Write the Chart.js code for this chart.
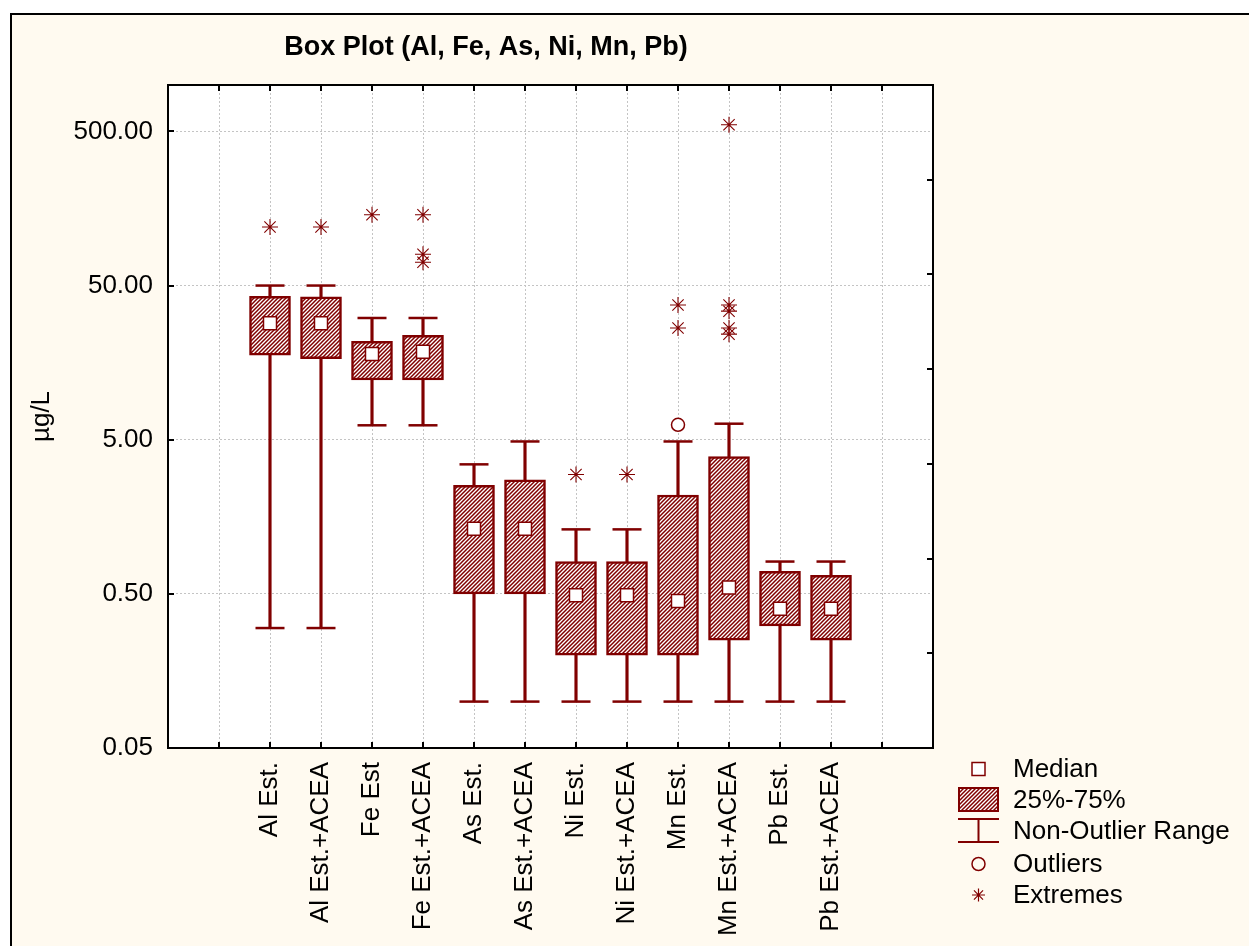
<!DOCTYPE html>
<html>
<head>
<meta charset="utf-8">
<title>Box Plot (Al, Fe, As, Ni, Mn, Pb)</title>
<script src="https://cdn.jsdelivr.net/npm/chart.js@4.4.1/dist/chart.umd.min.js"></script>
<style>
  html, body { margin: 0; padding: 0; background: #ffffff; }
  canvas { display: block; }
</style>
</head>
<body>
<canvas id="boxChart" width="1249" height="946"></canvas>
<script>
// ============ Data ============

const CATEGORIES = [
    'Al Est.', 'Al Est.+ACEA', 'Fe Est', 'Fe Est.+ACEA',
    'As Est.', 'As Est.+ACEA', 'Ni Est.', 'Ni Est.+ACEA',
    'Mn Est.', 'Mn Est.+ACEA', 'Pb Est.', 'Pb Est.+ACEA'
];
const WHISKER_LOW  = [0.30, 0.30, 6.2, 6.2, 0.10, 0.10, 0.10, 0.10, 0.10, 0.10, 0.10, 0.10];
const Q1           = [17.7, 16.8, 12.2, 12.2, 0.50, 0.50, 0.20, 0.20, 0.20, 0.25, 0.31, 0.25];
const MEDIAN       = [28.5, 28.5, 18.0, 18.6, 1.32, 1.32, 0.49, 0.49, 0.45, 0.55, 0.40, 0.40];
const Q3           = [42.5, 42.2, 21.7, 23.8, 2.53, 2.75, 0.81, 0.81, 2.19, 3.88, 0.70, 0.66];
const WHISKER_HIGH = [50, 50, 30.8, 30.8, 3.46, 4.87, 1.31, 1.31, 4.87, 6.35, 0.81, 0.81];
const OUTLIERS = [[], [], [], [], [], [], [], [], [6.25], [], [], []];
const EXTREMES = [
    [120], [120], [144], [144, 79.8, 70.8],
    [], [], [2.97], [2.97],
    [37.4, 26.5], [552, 37.4, 34.1, 26.5, 24.2], [], []
];
const Y_TICKS = [0.05, 0.5, 5, 50, 500];
const LEGEND_ITEMS = ['Median', '25%-75%', 'Non-Outlier Range', 'Outliers', 'Extremes'];

// ============ Style ============

const DARK = '#800000';
const CREAM = '#fffaf0';
const GRID = '#c4c4c4';
const FONT = '"Liberation Sans", Arial, sans-serif';

// two empty slots on each side of the categories
const pad = arr => [null, null, ...arr, null, null];
const LABELS = ['', '', ...CATEGORIES, '', ''];

function makeHatch() {
    const c = document.createElement('canvas');
    c.width = 4;
    c.height = 4;
    const g = c.getContext('2d');
    g.fillStyle = '#ffffff';
    g.fillRect(0, 0, 4, 4);
    g.strokeStyle = DARK;
    g.lineWidth = 1.5;
    g.beginPath();
    g.moveTo(0, 4); g.lineTo(4, 0);
    g.moveTo(-1, 1); g.lineTo(1, -1);
    g.moveTo(3, 5); g.lineTo(5, 3);
    g.stroke();
    return g.createPattern(c, 'repeat');
}
const HATCH = makeHatch();

const toPoints = lists => lists.flatMap((vals, i) => vals.map(v => ({ x: CATEGORIES[i], y: v })));

// ============ Plugins ============

function drawAsterisk(ctx, x, y, r) {
    ctx.beginPath();
    ctx.moveTo(x - r, y); ctx.lineTo(x + r, y);
    ctx.moveTo(x, y - r); ctx.lineTo(x, y + r);
    const d = r * 0.7;
    ctx.moveTo(x - d, y - d); ctx.lineTo(x + d, y + d);
    ctx.moveTo(x - d, y + d); ctx.lineTo(x + d, y - d);
    ctx.stroke();
}

const framePlugin = {
    id: 'frame',
    beforeDraw(chart) {
        const { ctx, chartArea: a } = chart;
        ctx.save();
        ctx.fillStyle = '#ffffff';
        ctx.fillRect(0, 0, chart.width, chart.height);
        ctx.fillStyle = CREAM;
        ctx.fillRect(10, 13, chart.width - 10, chart.height - 13);
        ctx.strokeStyle = '#000000';
        ctx.lineWidth = 2;
        ctx.beginPath();
        ctx.moveTo(11, chart.height);
        ctx.lineTo(11, 14);
        ctx.lineTo(chart.width, 14);
        ctx.stroke();
        ctx.fillStyle = '#ffffff';
        ctx.fillRect(a.left, a.top, a.right - a.left, a.bottom - a.top);
        ctx.restore();
    },
    afterDraw(chart) {
        const { ctx, chartArea: a, scales } = chart;
        ctx.save();

        // plot border + inward ticks
        ctx.strokeStyle = '#000000';
        ctx.lineWidth = 2;
        ctx.strokeRect(a.left, a.top, a.right - a.left, a.bottom - a.top);
        ctx.beginPath();
        for (let i = 1; i < LABELS.length - 1; i++) {
            const x = Math.round(scales.x.getPixelForValue(i));
            ctx.moveTo(x, a.top); ctx.lineTo(x, a.top + 6);
            ctx.moveTo(x, a.bottom); ctx.lineTo(x, a.bottom - 6);
        }
        Y_TICKS.slice(1).forEach(v => {
            const y = Math.round(scales.y.getPixelForValue(v));
            ctx.moveTo(a.left, y); ctx.lineTo(a.left + 6, y);
        });
        for (let v = 1; v < 7; v++) {
            const y = Math.round(scales.y2.getPixelForValue(v));
            ctx.moveTo(a.right, y); ctx.lineTo(a.right - 6, y);
        }
        ctx.stroke();

        // title
        ctx.fillStyle = '#000000';
        ctx.font = 'bold 27px ' + FONT;
        ctx.textAlign = 'center';
        ctx.textBaseline = 'middle';
        ctx.fillText('Box Plot (Al, Fe, As, Ni, Mn, Pb)', 486, 48);

        // y axis title
        ctx.save();
        ctx.translate(42, (a.top + a.bottom) / 2);
        ctx.rotate(-Math.PI / 2);
        ctx.font = '26px ' + FONT;
        ctx.fillText('µg/L', 0, 0);
        ctx.restore();

        // legend
        const sx = 978.5;
        const rows = [769, 800, 831, 864, 895];
        ctx.strokeStyle = DARK;

        ctx.lineWidth = 1.5;
        ctx.fillStyle = '#ffffff';
        ctx.fillRect(sx - 6.5, rows[0] - 6.5, 13, 13);
        ctx.strokeRect(sx - 6.5, rows[0] - 6.5, 13, 13);

        ctx.fillStyle = HATCH;
        ctx.fillRect(958, rows[1] - 13, 41, 25);
        ctx.lineWidth = 2;
        ctx.strokeRect(959, rows[1] - 12, 39, 23);

        ctx.beginPath();
        ctx.moveTo(958, rows[2] - 12); ctx.lineTo(999, rows[2] - 12);
        ctx.moveTo(sx, rows[2] - 12); ctx.lineTo(sx, rows[2] + 11);
        ctx.moveTo(958, rows[2] + 11); ctx.lineTo(999, rows[2] + 11);
        ctx.stroke();

        ctx.lineWidth = 1.5;
        ctx.beginPath();
        ctx.arc(sx, rows[3], 6.5, 0, Math.PI * 2);
        ctx.stroke();

        ctx.lineWidth = 1.2;
        drawAsterisk(ctx, sx, rows[4], 6.5);

        ctx.fillStyle = '#000000';
        ctx.font = '26px ' + FONT;
        ctx.textAlign = 'left';
        LEGEND_ITEMS.forEach((t, i) => ctx.fillText(t, 1013, rows[i] + 1));

        ctx.restore();
    }
};

// ============ Chart ============

const ctx = document.getElementById('boxChart').getContext('2d');

new Chart(ctx, {
    data: {
        labels: LABELS,
        datasets: [
            {
                type: 'bar',
                label: 'Non-Outlier Range',
                data: pad(CATEGORIES.map((c, i) => [WHISKER_LOW[i], WHISKER_HIGH[i]])),
                backgroundColor: DARK,
                barThickness: 2.5,
                grouped: false,
                order: 5
            },
            {
                type: 'bar',
                label: '25%-75%',
                data: pad(CATEGORIES.map((c, i) => [Q1[i], Q3[i]])),
                backgroundColor: HATCH,
                borderColor: DARK,
                borderWidth: 2.5,
                borderSkipped: false,
                barThickness: 41,
                grouped: false,
                order: 4
            },
            {
                type: 'line',
                label: 'cap high',
                data: pad(WHISKER_HIGH),
                showLine: false,
                pointStyle: 'line',
                pointRadius: 14.5,
                pointBorderWidth: 2.5,
                pointBorderColor: DARK,
                order: 3
            },
            {
                type: 'line',
                label: 'cap low',
                data: pad(WHISKER_LOW),
                showLine: false,
                pointStyle: 'line',
                pointRadius: 14.5,
                pointBorderWidth: 2.5,
                pointBorderColor: DARK,
                order: 3
            },
            {
                type: 'line',
                label: 'Median',
                data: pad(MEDIAN),
                showLine: false,
                pointStyle: 'rect',
                pointRadius: 9.2,
                pointBackgroundColor: '#ffffff',
                pointBorderColor: DARK,
                pointBorderWidth: 1.5,
                order: 1
            },
            {
                type: 'line',
                label: 'Outliers',
                data: toPoints(OUTLIERS),
                showLine: false,
                pointStyle: 'circle',
                pointRadius: 6.5,
                pointBackgroundColor: '#ffffff',
                pointBorderColor: DARK,
                pointBorderWidth: 1.5,
                order: 1
            },
            {
                type: 'line',
                label: 'Extremes',
                data: toPoints(EXTREMES),
                showLine: false,
                pointStyle: 'star',
                pointRadius: 8,
                pointBorderColor: DARK,
                pointBorderWidth: 1.1,
                order: 1
            }
        ]
    },
    options: {
        responsive: false,
        animation: false,
        events: [],
        layout: { padding: { top: 85, left: 0, right: 0, bottom: 0 } },
        plugins: {
            legend: { display: false },
            title: { display: false },
            tooltip: { enabled: false }
        },
        scales: {
            x: {
                type: 'category',
                offset: false,
                grid: { color: GRID, lineWidth: 1, drawTicks: false, offset: false },
                border: { display: false, dash: [2, 2] },
                ticks: {
                    autoSkip: false,
                    minRotation: 90,
                    maxRotation: 90,
                    padding: 14,
                    color: '#000000',
                    font: { family: FONT, size: 26 }
                },
                afterFit: s => { s.height = 198; }
            },
            y: {
                type: 'logarithmic',
                position: 'left',
                min: 0.05,
                max: 1000,
                grid: { color: GRID, lineWidth: 1, drawTicks: false },
                border: { display: false, dash: [2, 2] },
                afterBuildTicks: s => { s.ticks = Y_TICKS.map(v => ({ value: v })); },
                ticks: {
                    padding: 15,
                    color: '#000000',
                    font: { family: FONT, size: 26 },
                    callback: v => Number(v).toFixed(2)
                },
                afterFit: s => { s.width = 168; }
            },
            y2: {
                type: 'linear',
                position: 'right',
                min: 0,
                max: 7,
                grid: { drawOnChartArea: false, drawTicks: false },
                border: { display: false },
                ticks: { display: false },
                afterFit: s => { s.width = 316; }
            }
        }
    },
    plugins: [framePlugin]
});
</script>
</body>
</html>
